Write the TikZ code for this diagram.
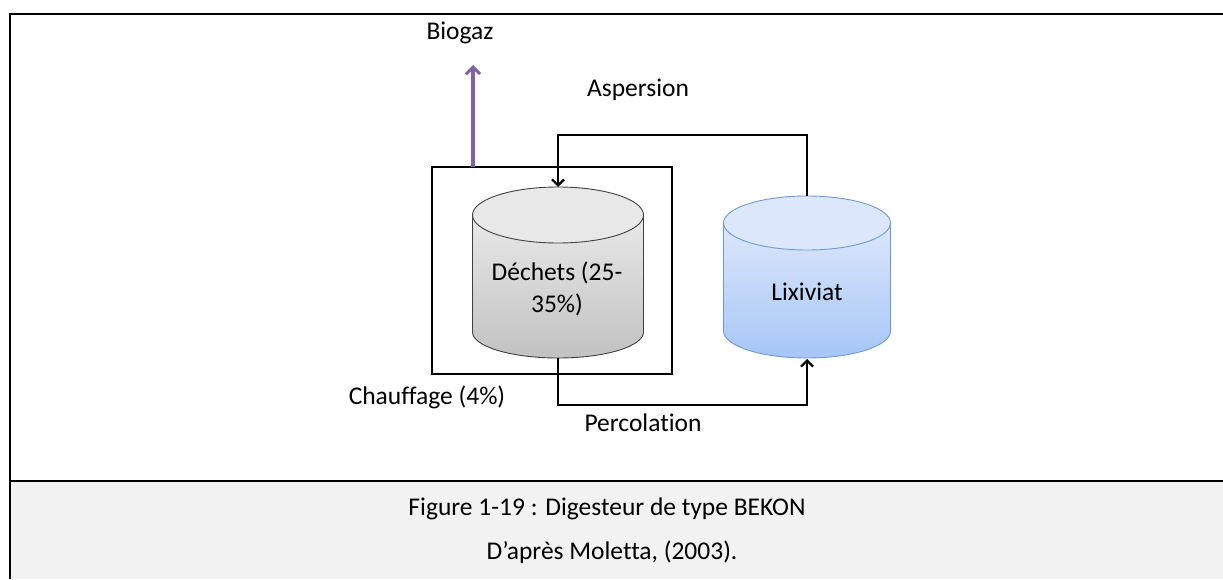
\documentclass[tikz,border=0pt]{standalone}
\usepackage{fontspec}
\setmainfont[Ligatures={NoCommon}]{Carlito}
\usetikzlibrary{arrows.meta}
\definecolor{gasviolet}{HTML}{8064A2}
\definecolor{capgray}{HTML}{F2F2F2}
\definecolor{blueline}{HTML}{6F9AD2}
\definecolor{bluetop}{HTML}{DCE7FB}
\definecolor{bluebot}{HTML}{A6C6F7}
\tikzset{
  lbl/.style={font=\fontsize{25.5}{32}\selectfont, inner sep=0pt, align=center},
  flow/.style={black, line width=2.2pt, -{Straight Barb[length=6pt,width=12pt,line width=2.2pt]}},
  gas/.style={gasviolet, line width=3.2pt, -{Straight Barb[length=7pt,width=14pt,line width=3pt]}},
  frame/.style={black, line width=2.6pt},
}
\begin{document}
\begin{tikzpicture}[x=1pt,y=1pt]
\useasboundingbox (0,0) rectangle (1223,-579);
% caption background and frame
\fill[capgray] (10,-481) rectangle (1223,-579);
\draw[frame] (1223,-14) -- (10,-14) -- (10,-579);
\draw[frame] (10,-481) -- (1223,-481);
% heating box
\draw[line width=2.2pt] (432,-167) rectangle (672,-374);
% gray cylinder (Dechets)
\shade[top color=gray!18, bottom color=gray!48, draw=black!75, line width=0.9pt]
  (472.5,-215) -- (472.5,-332) arc[start angle=180,end angle=360,x radius=85.5,y radius=26] -- (643.5,-215) -- cycle;
\filldraw[fill=gray!18, draw=black!75, line width=0.9pt] (558,-215) ellipse[x radius=85.5,y radius=28];
% blue cylinder (Lixiviat)
\shade[top color=bluetop, bottom color=bluebot, draw=blueline, line width=0.9pt]
  (723.5,-223) -- (723.5,-331) arc[start angle=180,end angle=360,x radius=83.5,y radius=27] -- (890.5,-223) -- cycle;
\filldraw[fill=bluetop, draw=blueline, line width=0.9pt] (807,-223) ellipse[x radius=83.5,y radius=27];
% anchor coordinates
\coordinate (dtop) at (558,-187);
\coordinate (dbot) at (558,-358);
\coordinate (ltop) at (807,-196);
\coordinate (lbot) at (807,-359);
\coordinate (boxtop) at (473,-167);
\coordinate (gastip) at (473,-65);
% texts
\node[lbl] (biogaz) at (460,-33) {Biogaz};
\node[lbl] (aspersion) at (638,-90) {Aspersion};
\node[lbl] (dechets) at (557,-289) {Déchets (25-\\35\%)};
\node[lbl] (lixiviat) at (807,-292) {Lixiviat};
\node[lbl] (chauffage) at (427,-397) {Chauffage (4\%)};
\node[lbl] (percolation) at (643,-423) {Percolation};
\node[lbl] (cap1) at (607,-509) {Figure 1-19 : Digesteur de type BEKON};
\node[lbl] (cap2) at (612,-552) {D’après Moletta, (2003).};
% connectors
\draw[gas] (boxtop) -- (gastip);
\draw[flow] (ltop) -- ++(0,61) -| (dtop);
\draw[flow] (dbot) -- ++(0,-47) -| (lbot);
\end{tikzpicture}
\end{document}
